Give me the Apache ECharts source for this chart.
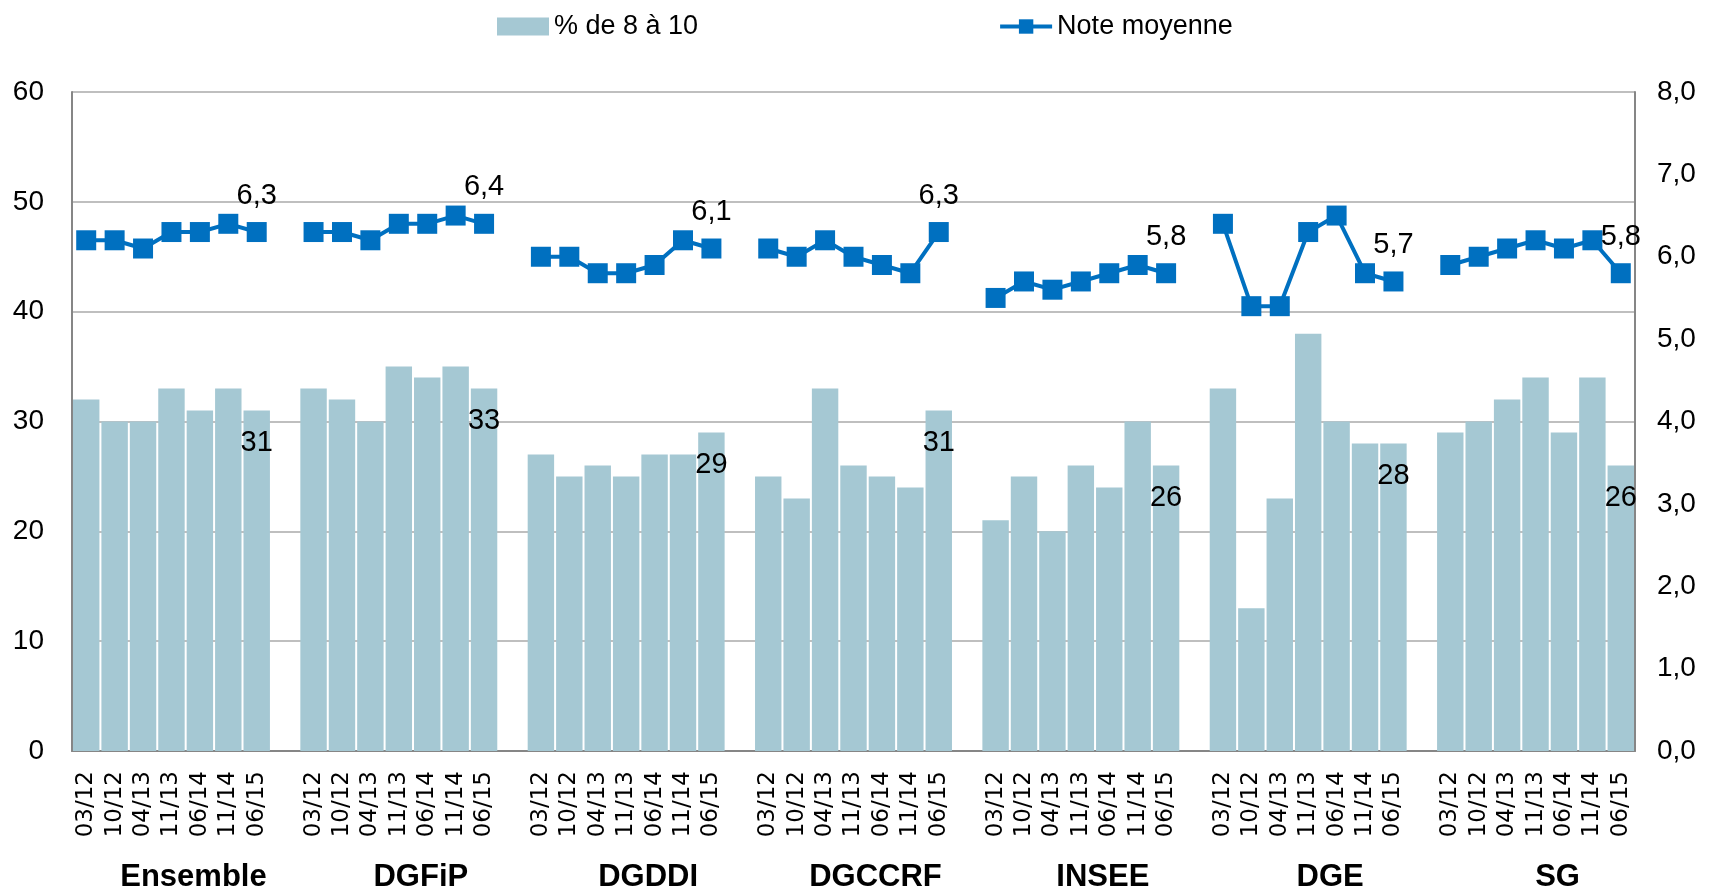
<!DOCTYPE html>
<html>
<head>
<meta charset="utf-8">
<script src="https://cdn.jsdelivr.net/npm/echarts@6/dist/echarts.min.js"></script>
<style>
  html, body { margin: 0; padding: 0; background: #fff; }
  #chart { width: 1713px; height: 893px; }
</style>
</head>
<body>
<div id="chart"></div>
<script>
// groupes et vagues
const groups = ['Ensemble', 'DGFiP', 'DGDDI', 'DGCCRF', 'INSEE', 'DGE', 'SG']
const dates = ['03/12', '10/12', '04/13', '11/13', '06/14', '11/14', '06/15']

// % de 8 à 10, par groupe
const pctEnsemble = [32, 30, 30, 33, 31, 33, 31]
const pctDGFiP = [33, 32, 30, 35, 34, 35, 33]
const pctDGDDI = [27, 25, 26, 25, 27, 27, 29]
const pctDGCCRF = [25, 23, 33, 26, 25, 24, 31]
const pctINSEE = [21, 25, 20, 26, 24, 30, 26]
const pctDGE = [33, 13, 23, 38, 30, 28, 28]
const pctSG = [29, 30, 32, 34, 29, 34, 26]

// note moyenne, par groupe
const noteEnsemble = [6.2, 6.2, 6.1, 6.3, 6.3, 6.4, 6.3]
const noteDGFiP = [6.3, 6.3, 6.2, 6.4, 6.4, 6.5, 6.4]
const noteDGDDI = [6.0, 6.0, 5.8, 5.8, 5.9, 6.2, 6.1]
const noteDGCCRF = [6.1, 6.0, 6.2, 6.0, 5.9, 5.8, 6.3]
const noteINSEE = [5.5, 5.7, 5.6, 5.7, 5.8, 5.9, 5.8]
const noteDGE = [6.4, 5.4, 5.4, 6.3, 6.5, 5.8, 5.7]
const noteSG = [5.9, 6.0, 6.1, 6.2, 6.1, 6.2, 5.8]

const pctAll = [pctEnsemble, pctDGFiP, pctDGDDI, pctDGCCRF, pctINSEE, pctDGE, pctSG]
const noteAll = [noteEnsemble, noteDGFiP, noteDGDDI, noteDGCCRF, noteINSEE, noteDGE, noteSG]

// axe à 55 catégories : une case vide entre chaque groupe
const cats = []
const groupCats = []
const barData = []
const lineData = []
groups.forEach((g, gi) => {
    if (gi > 0) {
        cats.push('')
        groupCats.push('')
        barData.push('-')
        lineData.push('-')
    }
    dates.forEach((d, i) => {
        const last = i === dates.length - 1
        cats.push(d)
        groupCats.push(i === 3 ? g : '')
        barData.push(last ? { value: pctAll[gi][i], label: { show: true } } : pctAll[gi][i])
        lineData.push(last ? { value: noteAll[gi][i], label: { show: true } } : noteAll[gi][i])
    })
})

const font = 'Liberation Sans'
const chart = echarts.init(document.getElementById('chart'))

chart.setOption({
    animation: false,
    textStyle: { fontFamily: font },
    legend: {
        left: 492,
        top: 8,
        itemGap: 300,
        itemWidth: 52,
        itemHeight: 18,
        textStyle: { fontSize: 27, color: '#000', fontFamily: font },
        data: [
            { name: '% de 8 à 10', icon: 'rect' },
            { name: 'Note moyenne', lineStyle: { width: 4 } }
        ]
    },
    grid: { left: 72, right: 78, top: 92, bottom: 140 },
    xAxis: [{
        type: 'category',
        data: cats,
        axisLine: { lineStyle: { color: '#868686', width: 2 } },
        axisTick: { show: false },
        axisLabel: {
            interval: 0,
            rotate: 90,
            margin: 20,
            fontSize: 23,
            fontFamily: 'DejaVu Sans',
            color: '#000'
        }
    }, {
        type: 'category',
        data: groupCats,
        position: 'bottom',
        axisLine: { show: false },
        axisTick: { show: false },
        axisLabel: {
            interval: 0,
            margin: 111,
            fontSize: 31,
            fontWeight: 'bold',
            color: '#000',
            padding: [0, 0, 0, 44]
        }
    }],
    yAxis: [{
        type: 'value',
        min: 0,
        max: 60,
        interval: 10,
        axisLine: { show: true, lineStyle: { color: '#868686', width: 2 } },
        axisTick: { show: false },
        axisLabel: { fontSize: 28, color: '#000', margin: 28 },
        splitLine: { lineStyle: { color: '#BFBFBF', width: 2 } }
    }, {
        type: 'value',
        min: 0,
        max: 8,
        interval: 1,
        axisLine: { show: true, lineStyle: { color: '#868686', width: 2 } },
        axisTick: { show: false },
        axisLabel: {
            fontSize: 28,
            color: '#000',
            margin: 22,
            formatter: v => v.toFixed(1).replace('.', ',')
        },
        splitLine: { show: false }
    }],
    series: [{
        name: '% de 8 à 10',
        type: 'bar',
        data: barData,
        barCategoryGap: '7%',
        itemStyle: { color: '#A5C8D3' },
        label: {
            show: false,
            position: 'insideTop',
            distance: 18,
            fontSize: 29,
            color: '#000'
        }
    }, {
        name: 'Note moyenne',
        type: 'line',
        yAxisIndex: 1,
        data: lineData,
        connectNulls: false,
        symbol: 'rect',
        symbolSize: 20,
        itemStyle: { color: '#0070C0' },
        lineStyle: { color: '#0070C0', width: 4 },
        label: {
            show: false,
            position: 'top',
            distance: 12,
            fontSize: 29,
            color: '#000',
            formatter: p => p.value.toFixed(1).replace('.', ',')
        }
    }]
})
</script>
</body>
</html>
